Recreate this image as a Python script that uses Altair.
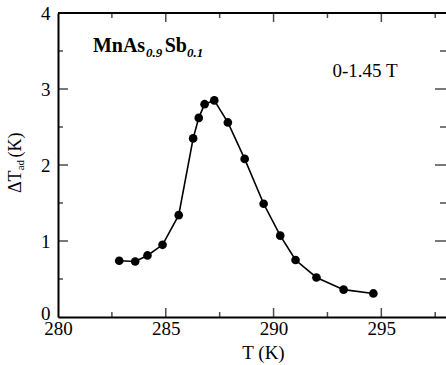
import altair as alt
import pandas as pd

# Data
T_K = [282.84, 283.58, 284.15, 284.85, 285.60, 286.27, 286.53, 286.80, 287.25,
       287.88, 288.66, 289.54, 290.31, 291.02, 291.99, 293.25, 294.63]
dT_ad = [0.74, 0.73, 0.81, 0.95, 1.34, 2.35, 2.62, 2.80, 2.85,
         2.56, 2.08, 1.49, 1.07, 0.75, 0.52, 0.36, 0.31]

x_labels = [280, 285, 290, 295]
y_labels = [0, 1, 2, 3, 4]
x_major = [285, 290, 295]
x_minor = [282.5, 287.5, 292.5, 297.5]
y_major = [1, 2, 3]
y_minor = [0.5, 1.5, 2.5, 3.5]

FONT = "'Liberation Serif', 'Times New Roman', serif"
X_DOMAIN = [280, 298]
Y_DOMAIN = [0, 4]

xs = alt.Scale(domain=X_DOMAIN, nice=False, zero=False)
ys = alt.Scale(domain=Y_DOMAIN, nice=False, zero=False)

df = pd.DataFrame({"T": T_K, "dT": dT_ad})

x_enc = alt.X("T:Q", scale=xs,
              axis=alt.Axis(values=x_labels, title="T (K)", ticks=False, domain=True,
                            domainColor="black", domainWidth=2, grid=False,
                            labelFlush=False, labelOverlap=False, labelPadding=2,
                            titleX=205, titleY=41, titleBaseline="alphabetic",
                            titleAlign="center"))
y_enc = alt.Y("dT:Q", scale=ys,
              axis=alt.Axis(values=y_labels, title=None, ticks=False, domain=True,
                            domainColor="black", domainWidth=2, grid=False,
                            labelFlush=False, labelOverlap=False, labelPadding=8,
                            labelOffset={"condition": {"test": "datum.value == 0", "value": -4},
                                         "value": 0}))

line = alt.Chart(df).mark_line(color="black", strokeWidth=1.6).encode(x=x_enc, y=y_enc)
pts = alt.Chart(df).mark_circle(color="black", size=75, opacity=1).encode(x=x_enc, y=y_enc)


def xticks(vals, yv, size):
    d = pd.DataFrame({"T": vals, "dT": [yv] * len(vals)})
    return alt.Chart(d).mark_tick(
        orient="vertical", clip=True, size=size, thickness=1.5, color="black"
    ).encode(x=x_enc, y=y_enc)


def yticks(vals, xv, size):
    d = pd.DataFrame({"dT": vals, "T": [xv] * len(vals)})
    return alt.Chart(d).mark_tick(
        orient="horizontal", clip=True, size=size, thickness=1.5, color="black"
    ).encode(x=x_enc, y=y_enc)


top_line = alt.Chart(pd.DataFrame({"T": [X_DOMAIN[0]], "T2": [X_DOMAIN[1]],
                                   "dT": [Y_DOMAIN[1]]})).mark_rule(
    color="black", strokeWidth=2
).encode(x=x_enc, x2="T2:Q", y=y_enc)

tick_layers = [
    xticks(x_major, Y_DOMAIN[0], 18),
    xticks(x_minor, Y_DOMAIN[0], 10),
    xticks(x_major, Y_DOMAIN[1], 18),
    xticks(x_minor, Y_DOMAIN[1], 10),
    yticks(y_major, X_DOMAIN[0], 20),
    yticks(y_minor, X_DOMAIN[0], 10),
    yticks(y_major, X_DOMAIN[1], 22),
    yticks(y_minor, X_DOMAIN[1], 12),
]


def label(text, x, y, size, weight="normal", style="normal", angle=0):
    d = pd.DataFrame({"T": [x], "dT": [y]})
    return alt.Chart(d).mark_text(
        text=text, font=FONT, fontSize=size, fontWeight=weight, fontStyle=style,
        align="left", baseline="alphabetic", angle=angle, color="black"
    ).encode(x=x_enc, y=y_enc)


texts = [
    label("MnAs", 281.62, 3.487, 20, weight="bold"),
    label("0.9", 284.08, 3.42, 13, weight="bold", style="italic"),
    label("Sb", 284.95, 3.487, 20, weight="bold"),
    label("0.1", 285.98, 3.42, 13, weight="bold", style="italic"),
    label("0-1.45 T", 292.73, 3.16, 19),
    label("\u0394T", 278.29, 1.63, 18, angle=270),
    label("ad", 278.42, 1.93, 11, angle=270),
    label("(K)", 278.29, 2.10, 18, angle=270),
]

chart = alt.layer(line, pts, top_line, *tick_layers, *texts).properties(
    width=388, height=304, autosize="none",
    padding={"left": 58, "top": 13, "right": 0, "bottom": 48},
).configure_view(strokeWidth=0).configure_axis(
    labelFont=FONT, titleFont=FONT, labelFontSize=19, titleFontSize=19,
    labelColor="black", titleColor="black", titleFontWeight="normal",
)

chart.save("out.html", embed_options={"renderer": "svg", "actions": False})
